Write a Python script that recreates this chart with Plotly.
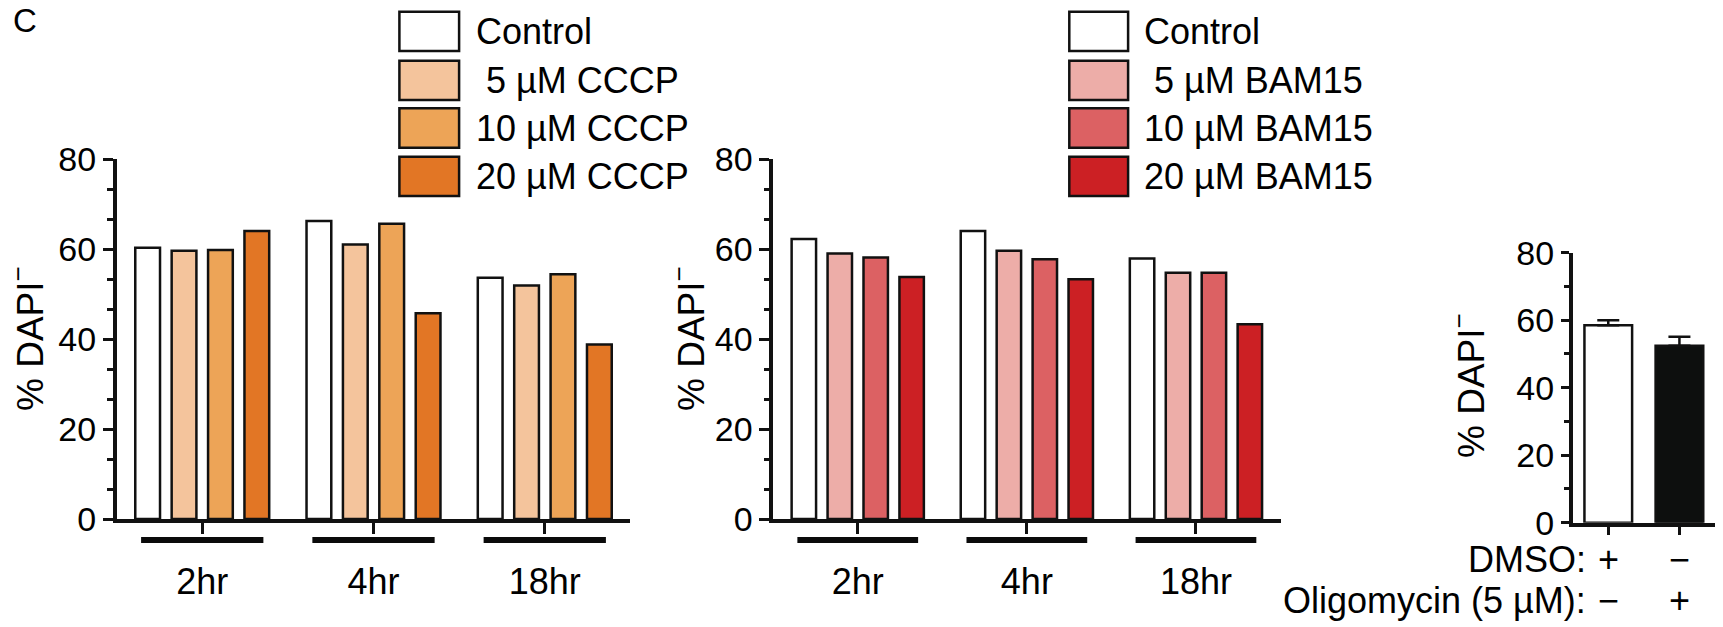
import plotly.graph_objects as go

# ---------------- data ----------------
categories = ["2hr", "4hr", "18hr"]

cccp_names = ["Control", "5 µM CCCP", "10 µM CCCP", "20 µM CCCP"]
cccp_control = [60.3, 66.2, 53.6]
cccp_5 = [59.6, 61.0, 51.9]
cccp_10 = [59.8, 65.6, 54.4]
cccp_20 = [64.0, 45.7, 38.8]

bam_names = ["Control", "5 µM BAM15", "10 µM BAM15", "20 µM BAM15"]
bam_control = [62.2, 64.0, 57.9]
bam_5 = [59.0, 59.6, 54.7]
bam_10 = [58.1, 57.7, 54.7]
bam_20 = [53.8, 53.3, 43.3]

oligo_groups = ["DMSO", "Oligomycin"]
oligo_mean = [58.5, 52.4]
oligo_sem = [1.5, 2.7]
dmso_row = ["+", "−"]
oligo_row = ["−", "+"]

y_ticks = [0, 20, 40, 60, 80]

# ---------------- styles ----------------
W, H = 1723, 627
def px(x): return x / W
def py(y): return 1 - y / H

SANS = "Liberation Sans, Arial, Helvetica, sans-serif"
INK = "#111111"

cccp_colors = ["#FFFFFF", "#F4C49C", "#EDA457", "#E27625"]
bam_colors = ["#FFFFFF", "#EDADA8", "#DC6163", "#CC2024"]
oligo_colors = ["#FFFFFF", "#0D0F0E"]

fig = go.Figure()

cccp_vals = [cccp_control, cccp_5, cccp_10, cccp_20]
bam_vals = [bam_control, bam_5, bam_10, bam_20]

for name, vals, col in zip(cccp_names, cccp_vals, cccp_colors):
    fig.add_trace(go.Bar(x=categories, y=vals, name=name, marker=dict(color=col, line=dict(color=INK, width=2.5)),
                         xaxis="x", yaxis="y", showlegend=False, offsetgroup=name))
for name, vals, col in zip(bam_names, bam_vals, bam_colors):
    fig.add_trace(go.Bar(x=categories, y=vals, name=name, marker=dict(color=col, line=dict(color=INK, width=2.5)),
                         xaxis="x2", yaxis="y2", showlegend=False, offsetgroup=name))

fig.add_trace(go.Bar(x=oligo_groups, y=oligo_mean, width=0.67,
                     marker=dict(color=oligo_colors, line=dict(color=INK, width=2.5)),
                     error_y=dict(type="data", array=oligo_sem, arrayminus=[0, 0], symmetric=False,
                                  color=INK, thickness=2.5, width=11),
                     xaxis="x3", yaxis="y3", showlegend=False))

# ---------------- axes ----------------
y1_dom = [py(519), py(159)]
y3_dom = [py(522.7), py(252.7)]

def xaxis(dom, anchor, labels, show_labels=True, ticklen=11):
    return dict(domain=dom, anchor=anchor, range=[-0.5, len(labels) - 0.5], type="category",
                showline=True, linecolor=INK, linewidth=3.5, ticks="outside", ticklen=ticklen, tickwidth=3,
                tickcolor=INK, showgrid=False, zeroline=False, showticklabels=show_labels,
                ticklabelstandoff=17, tickfont=dict(family=SANS, size=36, color="#000"),
                automargin=False, fixedrange=True)

def yaxis(dom, anchor, minor_dtick, ticklen, minorlen):
    return dict(domain=dom, anchor=anchor, range=[0, 80], tickvals=y_ticks,
                showline=True, linecolor=INK, linewidth=3.5, ticks="outside", ticklen=ticklen, tickwidth=3,
                tickcolor=INK, showgrid=False, zeroline=False,
                tickfont=dict(family=SANS, size=34, color="#000"),
                minor=dict(dtick=minor_dtick, tick0=0, ticks="outside", ticklen=minorlen, tickwidth=2.5,
                           tickcolor=INK),
                automargin=False, fixedrange=True)

fig.update_layout(
    width=W, height=H, margin=dict(l=0, r=0, t=0, b=0, pad=0, autoexpand=False),
    paper_bgcolor="white", plot_bgcolor="white",
    barmode="group", bargap=0.15, bargroupgap=0.32,
    xaxis=xaxis([px(116.6), px(630.4)], "y", categories),
    yaxis=yaxis(y1_dom, "x", 20 / 3, 10, 5.5),
    xaxis2=xaxis([px(773.2), px(1280.5)], "y2", categories),
    yaxis2=yaxis(y1_dom, "x2", 20 / 3, 10, 5.5),
    xaxis3=xaxis([px(1572.7), px(1715)], "y3", oligo_groups, show_labels=False, ticklen=9),
    yaxis3=yaxis(y3_dom, "x3", 10, 8, 4.5),
    font=dict(family=SANS, color="#000"),
)

shapes = []
annotations = []

# group underline bars
for xr in ["x", "x2"]:
    for i, _ in enumerate(categories):
        shapes.append(dict(type="line", xref=xr, yref="paper", x0=i - 0.357, x1=i + 0.357,
                           y0=py(540), y1=py(540), line=dict(color="#0A0A0A", width=6)))

# manual legends
row_y = [(11.7, 51), (60.7, 100), (108.3, 147.7), (156.7, 196)]
for (bx0, bx1, tx), names, cols in [((399.4, 459.1, 474), cccp_names, cccp_colors),
                                    ((1069.3, 1128.1, 1142), bam_names, bam_colors)]:
    for (y0, y1), name, col in zip(row_y, names, cols):
        shapes.append(dict(type="rect", xref="paper", yref="paper", x0=px(bx0), x1=px(bx1),
                           y0=py(y1), y1=py(y0), fillcolor=col, line=dict(color=INK, width=2.5)))
        label = ("\u00a0" + name) if name.startswith("5 ") else name
        annotations.append(dict(x=px(tx), y=py((y0 + y1) / 2), xref="paper", yref="paper",
                                text=label, showarrow=False, xanchor="left", yanchor="middle",
                                font=dict(family=SANS, size=36, color="#000")))

# y axis titles
for xc, yc in [(27, 339), (688, 339), (1468, 386)]:
    annotations.append(dict(x=px(xc), y=py(yc), xref="paper", yref="paper", text="% DAPI<sup>−</sup>",
                            textangle=-90, showarrow=False, xanchor="center", yanchor="middle",
                            font=dict(family=SANS, size=37, color="#000")))

# panel letter
annotations.append(dict(x=px(11), y=py(20), xref="paper", yref="paper", text="C", showarrow=False,
                        xanchor="left", yanchor="middle", font=dict(family=SANS, size=33, color="#000")))

# treatment rows under panel 3
for ytxt, label, signs in [(559, "DMSO:", dmso_row), (600, "Oligomycin (5 µM):", oligo_row)]:
    annotations.append(dict(x=px(1588), y=py(ytxt), xref="paper", yref="paper", text=label, showarrow=False,
                            xanchor="right", yanchor="middle", font=dict(family=SANS, size=36, color="#000")))
    for i, s in enumerate(signs):
        annotations.append(dict(x=i, y=py(ytxt), xref="x3", yref="paper", text=s, showarrow=False,
                                xanchor="center", yanchor="middle", font=dict(family=SANS, size=36, color="#000")))

fig.update_layout(shapes=shapes, annotations=annotations)

fig.write_html("out.html")
